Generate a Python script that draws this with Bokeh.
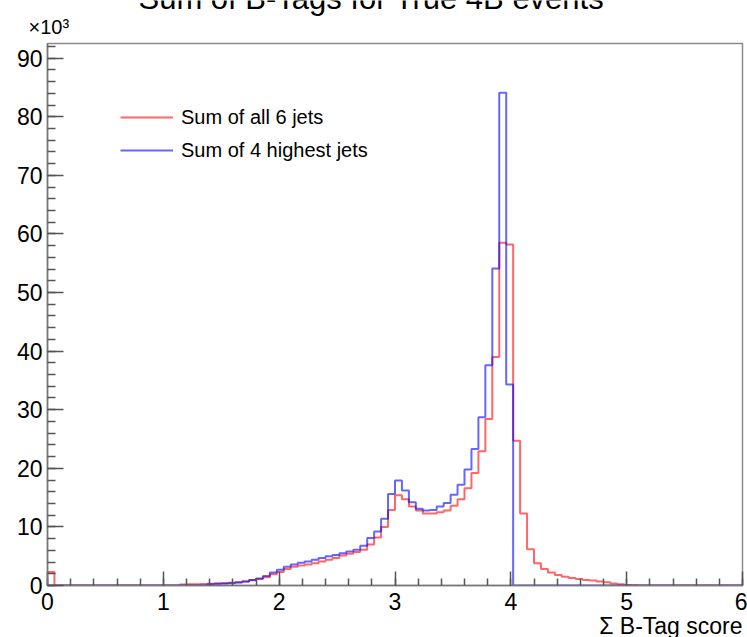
import numpy as np
from bokeh.plotting import figure
from bokeh.layouts import column
from bokeh.models import Range1d, Label, Legend, LegendItem, FixedTicker
from bokeh.embed import file_html
from bokeh.resources import INLINE

# ---- data (counts in thousands, 100 bins of width 0.06 from 0 to 6) ----
x_min, x_max, n_bins = 0.0, 6.0, 100
sum_all6 = [
    2.3,
    0, 0, 0, 0, 0, 0, 0, 0, 0, 0, 0, 0, 0, 0, 0, 0, 0, 0,
    0.15, 0.2, 0.2, 0.25, 0.3, 0.35, 0.4, 0.45, 0.55, 0.7,
    0.9, 1.1, 1.4, 1.9, 2.3, 2.8, 3.2, 3.4, 3.6, 3.8,
    4.1, 4.4, 4.7, 5.1, 5.4, 5.7, 6.1, 7.0, 8.2, 10.0,
    12.9, 15.4, 14.7, 13.5, 12.8, 12.3, 12.3, 12.5, 12.8, 13.6,
    14.7, 16.6, 19.2, 22.9, 28.4, 39.0, 58.5, 58.2, 24.7, 12.3,
    6.2, 3.8, 2.8, 2.2, 1.8, 1.5, 1.3, 1.1, 0.95, 0.85,
    0.7, 0.55, 0.35, 0.2, 0.1, 0.05,
    0, 0, 0, 0, 0, 0, 0, 0, 0, 0, 0, 0, 0, 0, 0,
]
sum_top4 = [
    0, 0, 0, 0, 0, 0, 0, 0, 0, 0, 0, 0, 0, 0, 0, 0, 0, 0, 0, 0, 0, 0, 0,
    0.2, 0.3, 0.35, 0.4, 0.5, 0.7, 0.95, 1.2, 1.6, 2.2,
    2.7, 3.2, 3.6, 3.9, 4.1, 4.4, 4.7, 5.0, 5.2, 5.5,
    5.8, 6.1, 6.8, 8.1, 9.2, 11.4, 15.6, 17.9, 16.2, 14.2,
    13.1, 12.8, 12.9, 13.5, 14.1, 15.5, 17.2, 19.8, 23.3, 28.7,
    37.6, 54.1, 84.1, 34.3,
    0, 0, 0, 0, 0, 0, 0, 0, 0, 0, 0, 0, 0, 0, 0, 0, 0, 0, 0, 0,
    0, 0, 0, 0, 0, 0, 0, 0, 0, 0, 0, 0, 0,
]
series_labels = ["Sum of all 6 jets", "Sum of 4 highest jets"]
title_text = "Sum of B-Tags for True 4B events"
x_title = "Σ B-Tag score"
y_exponent = "×10³"
x_ticks = [0, 1, 2, 3, 4, 5, 6]
y_ticks = [0, 10, 20, 30, 40, 50, 60, 70, 80, 90]

edges = np.linspace(x_min, x_max, n_bins + 1)

FONT = "Liberation Sans"
W, H = 747, 637
BL, BR, BT, BB = 47, 5, 43, 52   # borders around the plot frame

p = figure(width=W, height=H, x_range=Range1d(0, 6), y_range=Range1d(0, 92.5),
           output_backend="svg", toolbar_location=None,
           min_border_left=BL, min_border_right=BR, min_border_top=BT, min_border_bottom=BB)
p.margin = (0, 0, 0, 0)
p.xgrid.visible = False
p.ygrid.visible = False
p.background_fill_color = "white"
p.border_fill_color = "white"
p.outline_line_color = "#8a8a8a"
p.outline_line_width = 1.5

r_red = p.step(x=edges, y=list(sum_all6) + [sum_all6[-1]], mode="after",
               line_color="#ff0000", line_alpha=0.6, line_width=2)
r_blue = p.step(x=edges, y=list(sum_top4) + [sum_top4[-1]], mode="after",
                line_color="#0000ff", line_alpha=0.6, line_width=2)

for ax in (p.xaxis[0], p.yaxis[0]):
    ax.axis_line_color = "#777777"
    ax.axis_line_width = 1.5
    ax.major_tick_line_color = "#555555"
    ax.major_tick_line_width = 1.5
    ax.minor_tick_line_color = "#555555"
    ax.minor_tick_line_width = 1.5
    ax.major_tick_out = 0
    ax.minor_tick_out = 0
    ax.major_label_text_font = FONT
    ax.major_label_text_font_size = "23px"
    ax.major_label_text_color = "black"

p.xaxis.ticker = FixedTicker(ticks=x_ticks, minor_ticks=list(np.round(np.arange(0, 6.01, 0.2), 2)))
p.yaxis.ticker = FixedTicker(ticks=y_ticks, minor_ticks=list(range(0, 93, 2)))
p.xaxis.major_tick_in = 14
p.xaxis.minor_tick_in = 7
p.yaxis.major_tick_in = 16
p.yaxis.minor_tick_in = 8
p.xaxis.major_label_standoff = 7
p.yaxis.major_label_standoff = 5

legend = Legend(items=[LegendItem(label=series_labels[0], renderers=[r_red]),
                       LegendItem(label=series_labels[1], renderers=[r_blue])],
                location=(73, 420), border_line_alpha=0, background_fill_alpha=0,
                padding=0, margin=0, spacing=3, glyph_width=53, glyph_height=30,
                label_height=30, label_standoff=8, label_text_font=FONT,
                label_text_font_size="20px", label_text_color="black")
p.add_layout(legend)

# exponent label above the y axis (side panel: positioned from the frame's top-left)
p.add_layout(Label(x=-19, y=17, x_units="screen", y_units="screen", text=y_exponent,
                   text_align="left", text_baseline="alphabetic", text_font=FONT,
                   text_font_size="20px", text_color="black"), "above")

# transparent overlay at the same place; x in page pixels inside [BL, W-BR], y in page pixels
ov = figure(width=W, height=H, x_range=Range1d(BL, W - BR), y_range=Range1d(H, 0),
            output_backend="svg", toolbar_location=None, x_axis_type=None, y_axis_type=None,
            min_border_left=BL, min_border_right=BR, min_border_top=0, min_border_bottom=0)
ov.xgrid.visible = False
ov.ygrid.visible = False
ov.outline_line_color = None
ov.background_fill_color = None
ov.border_fill_color = None
ov.styles = {"position": "absolute", "top": "0px", "left": "0px"}

ov.add_layout(Label(x=138, y=-2, text=title_text, text_align="left",
                    text_baseline="alphabetic", text_font=FONT, text_font_size="31px",
                    text_color="black"))
ov.add_layout(Label(x=742, y=625, text=x_title, text_align="right",
                    text_baseline="alphabetic", text_font=FONT, text_font_size="23px",
                    text_color="black"))

layout = column(p, ov, spacing=0)
open("out.html", "w").write(file_html(layout, INLINE))
